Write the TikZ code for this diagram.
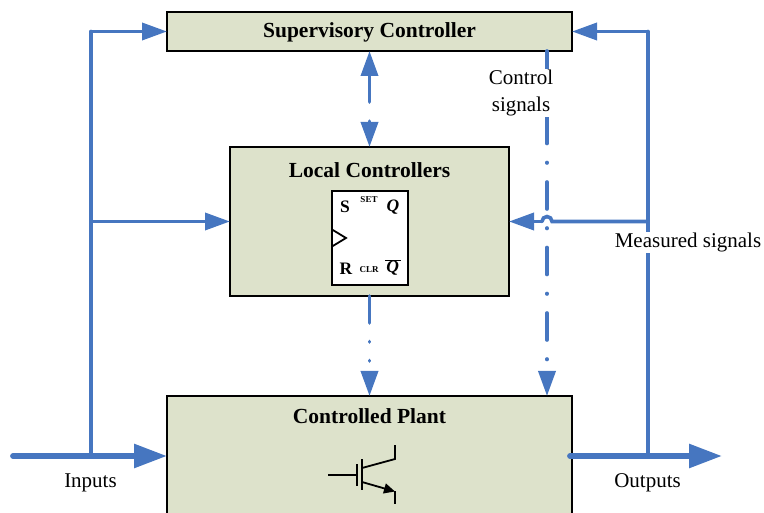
\documentclass[tikz,border=0pt]{standalone}
\usepackage{fontspec}
\setmainfont{Liberation Serif}
\usetikzlibrary{positioning,calc,arrows.meta}
\definecolor{blockfill}{HTML}{DDE2CB}
\definecolor{sigblue}{HTML}{4676C0}

\begin{document}
\begin{tikzpicture}[
      x=1pt,y=-1pt,
      every node/.style={font=\fontsize{21}{27}\selectfont},
      Blk/.style={draw,line width=1.6pt,fill=blockfill,outer sep=0pt,inner sep=0pt,minimum width=405pt},
      ttl/.style={font=\fontsize{21.5}{24}\selectfont\bfseries,inner sep=0pt},
      ff/.style={font=\fontsize{17.5}{20}\selectfont\bfseries,inner sep=0pt},
      ffs/.style={font=\fontsize{9}{10}\selectfont\bfseries,inner sep=0pt},
      lbl/.style={fill=white,align=center,inner sep=1pt},
      sig/.style={draw=sigblue,line width=3.6pt,line cap=round},
      ctl/.style={sig,dash pattern=on 27pt off 19pt on 0.5pt off 19pt},
      ctlshort/.style={sig,dash pattern=on 27pt off 18.5pt on 0.5pt off 18.5pt on 0.5pt off 100pt},
      thick sig/.style={draw=sigblue,line width=5.8pt,line cap=round},
      >={Triangle[length=25pt,width=17pt]},
    ]
    \path[use as bounding box,clip] (0,0) rectangle (764,513);

    \node[Blk,minimum height=39pt] (sup) at (369.5,31.5) {};
    \node[Blk,minimum width=279pt,minimum height=149pt,below=96pt of sup] (local) {};
    \node[Blk,minimum height=124pt,below=100pt of local] (plant) {};
    \node[draw,line width=1.6pt,fill=white,outer sep=0pt,minimum width=76pt,minimum height=94pt] (latch) at (370,238) {};

    \coordinate (inL) at (13,456);
    \coordinate (inJ) at (91,456);
    \coordinate (outL) at (570,456);
    \coordinate (outJ) at (648,456);
    \coordinate (outR) at (722,456);
    \coordinate (ctlT) at (547,51);
    \coordinate (hopR) at (552,221.5);
    \coordinate (hopL) at (542,221.5);

    % feed from the inputs
    \draw[sig] (inJ) -- (inJ |- sup.west);
    \draw[sig,->] (inJ |- sup.west) -- (sup.west);
    \draw[sig,->] (inJ |- local.west) -- (local.west);
    \draw[thick sig,-{Triangle[length=33pt,width=23pt]}] (inL) -- (inL -| plant.west);

    % feedback from the outputs
    \draw[thick sig,-{Triangle[length=33pt,width=23pt]}] (outL) -- (outR);
    \draw[sig] (outJ) -- (outJ |- sup.east);
    \draw[sig,->] (outJ |- sup.east) -- (sup.east);
    \draw[ctl,->] (ctlT) -- (ctlT |- plant.north);
    \draw[sig] (outJ |- local.east) -- (hopR) arc[start angle=0,end angle=180,radius=5pt];
    \draw[sig,->] (hopL) -- (local.east);

    % supervisory and local control
    \draw[ctl,<->] (sup.south) -- (local.north);
    \draw[ctlshort,->] (local.south) -- (plant.north);

    \node[ttl,yshift=-1pt] (supT) at (sup.center) {Supervisory Controller};
    \node[ttl,below=15pt of local.north] (localT) {Local Controllers};
    \node[ttl,below=12.5pt of plant.north] (plantT) {Controlled Plant};

    \node[ff] (ffS) at (345,207) {S};
    \node[ffs] (ffSet) at (369,200) {SET};
    \node[ff] (ffQ) at (393,207) {\itshape Q};
    \node[ff] (ffR) at (346,269) {R};
    \node[ffs] (ffClr) at (369,270) {CLR};
    \node[ff] (ffNQ) at (393,267.5) {$\overline{\mbox{\kern1pt\bfseries\itshape Q\kern1.5pt}}$};
    \draw[line width=1.8pt] (latch.west |- 0,229.5) -- (346,238) -- (latch.west |- 0,246.5);

    % transistor symbol
    \draw[line width=1.8pt] (328,475) -- (357,475) (357,464) -- (357,486);
    \draw[line width=1.8pt] (362,459) -- (362,490);
    \draw[line width=1.8pt] (362,468) -- (395,459) -- (395,445);
    \draw[line width=1.8pt,-{Triangle[length=11pt,width=10pt]}] (362,482) -- (395,491.5);
    \draw[line width=1.8pt] (395,491) -- (395,504);

    \node[lbl] (ctlL) at (521,93) {Control\\signals};
    \node[lbl] (measL) at (688,242.5) {Measured signals};
    \node[inner sep=1pt] (inT) at (90.5,482.5) {Inputs};
    \node[inner sep=1pt] (outT) at (647.5,482.5) {Outputs};
  \end{tikzpicture}
\end{document}
